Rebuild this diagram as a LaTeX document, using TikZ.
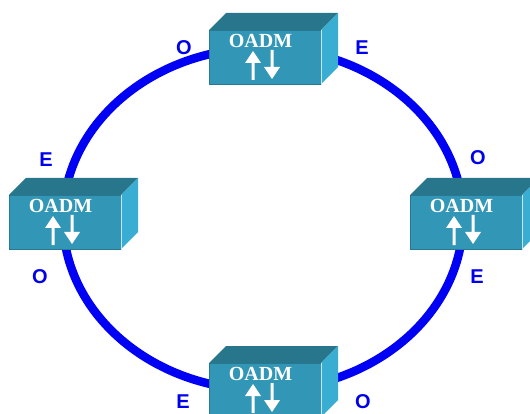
\documentclass[tikz,border=0pt]{standalone}
\usepackage{fontspec}
\setmainfont{Liberation Serif}
\newfontfamily\labelfont{Liberation Sans}
\definecolor{ringblue}{RGB}{0,0,245}
\definecolor{lblblue}{RGB}{0,0,235}
\definecolor{frontc}{RGB}{50,150,182}
\definecolor{topc}{RGB}{40,118,140}
\definecolor{sidec}{RGB}{58,174,210}
\tikzset{
  ring/.style={draw=ringblue, line width=8.5pt},
  frontface/.style={fill=frontc, draw=frontc!80!black, line width=0.6pt, minimum width=112pt, minimum height=54pt, inner sep=0pt, anchor=north west},
  topface/.style={fill=topc},
  sideface/.style={fill=sidec},
  boxtitle/.style={text=white, font=\fontsize{20}{20}\selectfont\bfseries, inner sep=0pt},
  portlbl/.style={text=lblblue, font=\labelfont\fontsize{20}{20}\selectfont\bfseries, inner sep=0pt},
  whitearrow/.style={fill=white}
}
\newcommand{\oadmbox}[3]{%
  \fill[topface] (#1,#2) -- ++(17,-17) -- ++(112,0) -- ++(-17,17) -- cycle;
  \fill[sideface] (#1+112,#2) -- ++(17,-17) -- ++(0,54) -- ++(-17,17) -- cycle;
  \node[frontface] (#3) at (#1,#2) {};
  \draw[white!70!sidec, line width=0.8pt] (#3.north east) -- (#3.south east);
  \node[boxtitle] (#3t) at (#1+51.5,#2+10.5) {OADM};
  \fill[whitearrow] (#1+42.5,#2+50) -- ++(0,-17) -- ++(-6.5,0) -- ++(8,-12) -- ++(8,12) -- ++(-6.5,0) -- ++(0,17) -- cycle;
  \fill[whitearrow] (#1+61.5,#2+20) -- ++(0,17) -- ++(-6.5,0) -- ++(8,12) -- ++(8,-12) -- ++(-6.5,0) -- ++(0,-17) -- cycle;
}
\begin{document}
\begin{tikzpicture}[x=1pt,y=-1pt]
\useasboundingbox (0,0) rectangle (530,414);
\fill[white] (0,0) rectangle (530,414);
\draw[ring] (263,219) ellipse [x radius=200, y radius=171];
\oadmbox{209}{30}{topbox}
\oadmbox{9}{195}{leftbox}
\oadmbox{410}{195}{rightbox}
\oadmbox{209}{363}{bottombox}
\node[portlbl] (l1) at (184,48) {O};
\node[portlbl] (l2) at (362,48) {E};
\node[portlbl] (l3) at (46,160) {E};
\node[portlbl] (l4) at (478,158) {O};
\node[portlbl] (l5) at (40,277) {O};
\node[portlbl] (l6) at (477,277) {E};
\node[portlbl] (l7) at (183,402) {E};
\node[portlbl] (l8) at (363,402) {O};
\end{tikzpicture}
\end{document}
